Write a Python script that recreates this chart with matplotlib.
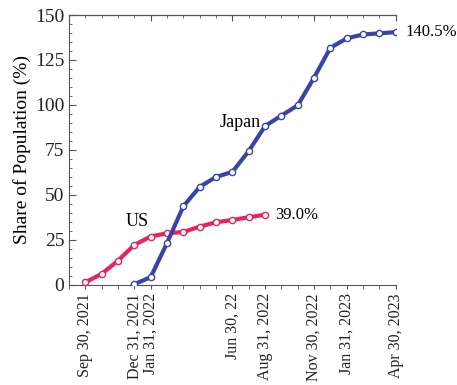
import matplotlib.pyplot as plt
from matplotlib.ticker import MultipleLocator, FixedLocator

# months counted from Aug 31, 2021 (0) to Apr 30, 2023 (20)
us_months = list(range(1, 13))
us_share = [1.5, 6.1, 13.5, 22.2, 26.9, 28.7, 29.4, 32.4, 34.8, 36.1, 37.6, 39.0]

japan_months = list(range(4, 21))
japan_share = [0.4, 4.3, 23.3, 43.7, 54.5, 60.0, 62.8, 74.4, 88.3, 94.1,
               99.8, 115.2, 131.8, 137.0, 139.2, 139.8, 140.5]

date_ticks = [1, 4, 5, 10, 12, 15, 17, 20]
date_labels = ["Sep 30, 2021", "Dec 31, 2021", "Jan 31, 2022", "Jun 30, 22",
               "Aug 31, 2022", "Nov 30, 2022", "Jan 31, 2023", "Apr 30, 2023"]

plt.rcParams["font.family"] = ["Liberation Serif", "DejaVu Serif"]

fig = plt.figure(figsize=(4.57, 3.85), dpi=100)
ax = fig.add_axes([0.151, 0.26, 0.715, 0.701])

red = "#e8245a"
blue = "#3a44a8"
ax.plot(us_months, us_share, color=red, lw=3, marker="o", ms=4.5,
        mfc="white", mec=red, mew=1.0, zorder=3)
ax.plot(japan_months, japan_share, color=blue, lw=3, marker="o", ms=4.5,
        mfc="white", mec=blue, mew=1.0, zorder=3)

ax.text(us_months[-1] + 0.6, us_share[-1], "%.1f%%" % us_share[-1],
        va="center", ha="left", fontsize=12)
ax.text(japan_months[-1] + 0.6, japan_share[-1], "%.1f%%" % japan_share[-1],
        va="center", ha="left", fontsize=12, clip_on=False)
ax.text(4.2, 35, "US", ha="center", va="center", fontsize=13)
ax.text(10.5, 90.5, "Japan", ha="center", va="center", fontsize=13)

ax.set_xlim(0, 20)
ax.set_ylim(0, 150)
ax.spines["right"].set_visible(False)
for s in ax.spines.values():
    s.set_color("#555555")

ax.yaxis.set_major_locator(MultipleLocator(25))
ax.yaxis.set_minor_locator(MultipleLocator(5))
ax.tick_params(axis="y", which="both", direction="in", labelsize=14,
               colors="#555555", labelcolor="#222222")
ax.tick_params(axis="y", which="major", length=5)
ax.tick_params(axis="y", which="minor", length=2.5)
ax.set_ylabel("Share of Population (%)", fontsize=14, labelpad=3)

ax.xaxis.set_major_locator(FixedLocator(date_ticks))
ax.xaxis.set_minor_locator(MultipleLocator(1))
ax.set_xticklabels(date_labels, rotation=90, fontsize=11.5)
ax.tick_params(axis="x", which="both", direction="out", length=3,
               colors="#555555", labelcolor="#222222", pad=3)

# month ticks along the top edge
top = ax.secondary_xaxis("top")
top.set_xticks(range(0, 21, 5))
top.xaxis.set_minor_locator(MultipleLocator(1))
top.set_xticklabels([])
top.tick_params(which="both", direction="in", colors="#555555")
top.tick_params(which="major", length=4)
top.tick_params(which="minor", length=2)

fig.savefig("out.png", dpi=100)
